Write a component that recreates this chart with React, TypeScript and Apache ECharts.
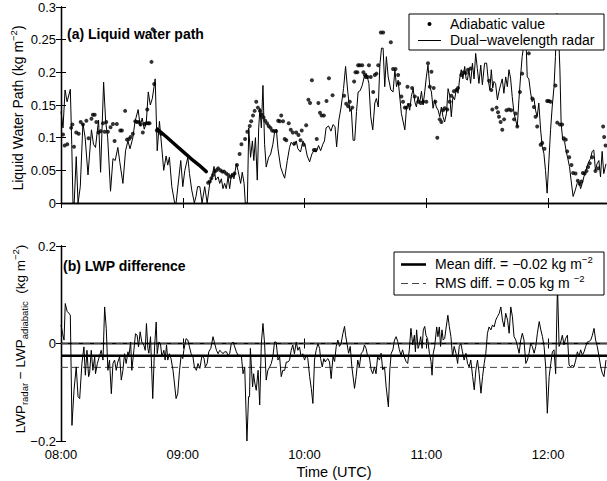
import React, { useEffect, useRef } from 'react';
import * as echarts from 'echarts';

const FONT = '"Liberation Sans", Arial, Helvetica, sans-serif';

// time axis: minutes after 08:00 UTC
const timeMax = 269;
const xTickLabels = ['08:00', '09:00', '10:00', '11:00', '12:00'];

// (a) Dual-wavelength radar LWP [minute, kg m^-2]
const radarLWP: number[][] = [
  [0,0.14],[1,0.115],[2,0.173],[3,0.155],[4.6,0.174],[5.3,0.09],[5.9,0],[6.5,0],[7.5,0.071],[8.4,0],[9.5,0.025],[10.8,0.122],[11.9,0.1],[13.3,0.043],[15,0.112],[16,0.09],[17,0.085],[18.5,0.127],[19.5,0.047],[21,0.185],[22,0.125],[23,0.1],[24.4,0.018],[25.6,0.068],[26.7,0.065],[28,0.085],[29,0.062],[30.5,0.03],[31.8,0.08],[33,0.095],[34,0.083],[35.4,0.1],[36.5,0.125],[38,0.143],[39,0.118],[40,0.13],[41,0.113],[42,0.122],[43,0.17],[44,0.15],[45,0.16],[46.4,0.19],[47.4,0.08],[48.5,0.125],[49.7,0.083],[50.6,0.05],[51.8,0.072],[52.6,0.058],[53.4,0.07],[54.6,0.025],[56,0],[56.7,0],[59,0.065],[60,0.025],[61,0.05],[62.5,0.07],[63.3,0.045],[64.4,0.02],[65.7,0],[66.5,0.01],[67.3,0.025],[68.4,0.025],[69.5,0],[70.8,0.025],[72,0],[73.3,0.03],[74.4,0.04],[75.4,0.056],[76.2,0.035],[77.4,0.04],[78.2,0.03],[79,0.037],[79.8,0.022],[80.6,0.03],[81.4,0.022],[82.3,0.04],[83.1,0.022],[84,0.045],[85.2,0.037],[86.4,0.06],[87.2,0.05],[88.5,0.03],[89.3,0.047],[90.2,0.03],[90.8,0],[91.8,0],[92.5,0.115],[93.4,0.07],[94.3,0.095],[95,0.065],[95.8,0.1],[96.7,0.035],[97.4,0.115],[98,0.145],[98.7,0.115],[99.5,0.18],[100.3,0.09],[101.1,0.055],[102.3,0.07],[103.3,0.075],[104.4,0.09],[105.3,0.11],[106.1,0.113],[106.9,0.083],[108.2,0.055],[109.3,0.045],[110.2,0.038],[111.5,0.065],[112.6,0.085],[113.4,0.093],[114.7,0.088],[115.9,0.095],[116.7,0.083],[118,0.078],[119.2,0.095],[120.3,0.088],[121.3,0.072],[122.5,0.063],[123.6,0.075],[124.6,0.08],[125.7,0.078],[126.9,0.088],[127.9,0.08],[129,0.09],[129.8,0.095],[130.6,0.115],[131.8,0.118],[133,0.11],[134,0.12],[135,0.117],[135.8,0.086],[136.9,0.127],[137.9,0.145],[139.2,0.175],[140.2,0.209],[141.2,0.173],[142.3,0.14],[143,0.145],[143.9,0.096],[144.7,0.096],[145.6,0.14],[146.4,0.17],[147.4,0.172],[148.4,0.18],[149.4,0.193],[150.5,0.198],[151.7,0.183],[152.6,0.132],[153.6,0.112],[154.6,0.153],[155.4,0.16],[156.3,0.147],[157.1,0.211],[157.9,0.237],[158.7,0.237],[159.5,0.178],[160.3,0.224],[161.2,0.193],[162.5,0.173],[163.6,0.17],[164.5,0.204],[165.3,0.178],[166.1,0.188],[166.9,0.163],[167.7,0.137],[168.6,0.124],[169.4,0.112],[170.2,0.145],[171,0.153],[171.8,0.142],[172.6,0.163],[173.5,0.175],[174.3,0.155],[175.1,0.147],[175.9,0.163],[176.7,0.153],[177.6,0.171],[178.4,0.15],[179.2,0.17],[180,0.193],[180.8,0.211],[181.7,0.178],[182.5,0.17],[183.3,0.145],[184.1,0.158],[184.9,0.147],[185.8,0.142],[186.6,0.132],[187.4,0.147],[188.2,0.132],[189,0.124],[189.9,0.137],[190.7,0.175],[191.5,0.165],[192.3,0.132],[193.1,0.163],[193.9,0.158],[194.8,0.175],[195.6,0.168],[196.4,0.19],[197.2,0.204],[198,0.19],[198.9,0.209],[199.6,0.19],[200.2,0.188],[201,0.204],[201.8,0.183],[202.7,0.214],[203.5,0.19],[204.3,0.229],[205.1,0.206],[205.9,0.183],[206.8,0.211],[207.6,0.181],[208.7,0.214],[209.7,0.214],[210.5,0.188],[211.3,0.173],[212,0.204],[212.7,0.176],[213.3,0.186],[214.1,0.183],[215,0.158],[215.8,0.171],[216.6,0.181],[217.4,0.19],[218.2,0.168],[219.1,0.193],[219.9,0.178],[220.7,0.204],[221.5,0.191],[222.3,0.163],[223.2,0.137],[224,0.127],[224.8,0.117],[225.6,0.158],[226.4,0.193],[227.2,0.224],[228.1,0.244],[228.6,0.26],[229.2,0.24],[229.7,0.193],[230.5,0.19],[231.3,0.17],[232.1,0.155],[233,0.16],[233.8,0.142],[234.6,0.132],[235.4,0.153],[236.3,0.112],[237.1,0.086],[237.9,0.076],[238.7,0.05],[239.5,0.015],[240.4,0.066],[241.2,0.112],[242,0.147],[242.9,0.178],[243.6,0.224],[244.3,0.29],[245,0.27],[245.8,0.204],[246.4,0.122],[247.2,0.096],[248.1,0.094],[248.9,0.079],[249.7,0.068],[250.5,0.056],[251.3,0.035],[252.3,0.01],[253.4,0.02],[254.3,0.03],[255.1,0.033],[256,0.022],[256.8,0.03],[257.6,0.04],[258.4,0.048],[259.2,0.056],[260,0.063],[260.9,0.068],[261.7,0.079],[262.5,0.081],[263.3,0.05],[264.1,0.06],[265,0.065],[265.8,0.04],[266.6,0.079],[267.4,0.045],[268.5,0.06]
];

// (a) Adiabatic LWP, individual samples
const adiabaticLWP: number[][] = [
  [1,0.105],[1.8,0.088],[3.1,0.09],[5,0.115],[5.6,0.12],[6.4,0.086],[7.5,0.108],[8.7,0.106],[9.7,0.124],[10.8,0.12],[12.5,0.126],[13.6,0.099],[15,0.129],[15.7,0.135],[16.6,0.135],[17.4,0.124],[18.5,0.108],[19.5,0.11],[20.7,0.122],[21.5,0.109],[22.3,0.124],[23.1,0.109],[24.4,0.116],[25.6,0.121],[26.4,0.095],[27.5,0.121],[29.2,0.111],[30,0.111],[31.6,0.141],[32.5,0.097],[33.5,0.098],[34.3,0.101],[35.4,0.106],[36.6,0.125],[37.4,0.124],[38.4,0.124],[39.2,0.12],[40.3,0.108],[41.1,0.121],[42,0.122],[42.5,0.143],[43,0.122],[43.6,0.122],[44.6,0.216],[45.2,0.266],[45.9,0.182],[47.2,0.111],[48.2,0.11],[49.3,0.106],
  [72.5,0.031],[73.3,0.033],[74.1,0.038],[74.9,0.043],[75.7,0.048],[76.6,0.05],[77.4,0.053],[78.5,0.05],[79.5,0.048],[80.4,0.048],[81.4,0.045],[82.4,0.043],[83.5,0.04],[84.8,0.043],[85.5,0.045],[86.7,0.058],[88,0.075],[88.9,0.09],[90.7,0.098],[91.8,0.109],[93,0.118],[93.7,0.125],[94.6,0.134],[95.4,0.141],[96.2,0.155],[97,0.146],[98,0.141],[99,0.135],[99.8,0.131],[100.6,0.126],[101.5,0.122],[102.3,0.118],[103.2,0.115],[104,0.111],[105,0.11],[106,0.11],[107,0.126],[107.8,0.125],[108.5,0.134],[109.4,0.125],[110.2,0.098],[111,0.096],[112.2,0.122],[113.2,0.112],[114.2,0.108],[115,0.091],[115.9,0.108],[117,0.104],[118,0.096],[118.6,0.111],[119.6,0.089],[120.8,0.119],[121.9,0.158],[122.7,0.153],[123.6,0.188],[124.6,0.081],[125.4,0.081],[126,0.098],[126.8,0.153],[127.6,0.138],[128.4,0.134],[129.5,0.134],[130.8,0.156],[132,0.191],
  [133.8,0.165],[139.5,0.164],[140.5,0.152],[141.5,0.148],[142.3,0.155],[143.5,0.146],[144.4,0.186],[145.1,0.2],[146,0.2],[146.4,0.211],[147.2,0.211],[148.4,0.211],[149,0.2],[149.7,0.196],[150.2,0.193],[151,0.193],[151.7,0.211],[152.6,0.193],[153.8,0.17],[154.6,0.196],[155.4,0.198],[156.3,0.211],[157.6,0.261],[158.7,0.261],[162.5,0.246],[163.6,0.205],[164.8,0.205],[166.1,0.196],[166.6,0.183],[167.7,0.163],[168.5,0.155],[169.4,0.146],[170.2,0.146],[170.7,0.178],[171.8,0.15],[173,0.176],[174.3,0.163],[176,0.155],[177.2,0.153],[178.4,0.155],[180,0.155],[180.8,0.214],[181.7,0.178],[182.5,0.201],[183.6,0.176],[184.4,0.155],[185.4,0.1],[186.6,0.128],[187.4,0.124],[188.2,0.142],[189,0.145],[190.3,0.143],[191.5,0.155],[192.3,0.164],[193.6,0.171],[194.8,0.173],[195.6,0.176],[197.2,0.196],[198.4,0.2],[199.4,0.199],[200.5,0.204],[201.8,0.206],
  [210.9,0.187],[212,0.173],[212.5,0.143],[214.6,0.146],[215.3,0.139],[215.8,0.132],[216.6,0.124],[217.4,0.112],[218.3,0.128],[219.5,0.142],[220.7,0.143],[221.8,0.142],[223.2,0.128],[224,0.137],[224.8,0.117],[226.1,0.17],[227.2,0.198],[230.5,0.229],[232.2,0.16],[233,0.147],[233.8,0.132],[234.6,0.117],[236.3,0.089],[237.1,0.092],[238.2,0.083],[239.5,0.156],[240.3,0.156],[241.2,0.155],[243.6,0.18],[244.5,0.123],[245.8,0.12],[246.9,0.12],[247.7,0.099],[248.7,0.097],[249.4,0.079],[250.4,0.07],[251.5,0.058],[252.3,0.046],[253.5,0.045],[254.6,0.034],[255.6,0.029],[256.4,0.033],[257.1,0.046],[258,0.045],[258.9,0.049],[259.7,0.055],[260.5,0.061],[261.7,0.07],[263.3,0.049],[264.6,0.053],[267.1,0.117],[267.6,0.101],[268.3,0.088]
];

// (a) Adiabatic LWP, densely sampled stretch (appears as a thick trace)
const adiabaticDense: number[][] = [
  [47.5,0.113],[52,0.101],[56,0.09],[60,0.079],[64,0.068],[68,0.058],[71.6,0.048]
];

// (b) LWP_radar - LWP_adiabatic
const lwpDiff: number[][] = [
  [0,0.038],[0.8,0.02],[1.5,0.007],[2.1,0.082],[3,0.066],[3.9,0.062],[4.6,0.058],[5.4,-0.168],[6.4,-0.096],[7.5,-0.048],[8.4,-0.109],[9.2,-0.113],[10.3,-0.041],[11.3,-0.007],[12,-0.065],[12.8,-0.014],[13.6,-0.068],[14.1,-0.061],[14.9,-0.014],[15.7,-0.055],[16.6,-0.027],[17,-0.062],[17.9,-0.041],[19.8,-0.014],[20.7,-0.034],[21.5,0.075],[22.3,0.031],[23.1,-0.055],[23.9,-0.034],[24.8,-0.103],[25.6,-0.041],[26.4,-0.034],[27.2,-0.055],[28,-0.038],[28.9,-0.027],[29.7,-0.075],[30.5,-0.055],[31.3,-0.021],[32.1,-0.041],[33,-0.017],[33.4,-0.027],[34.3,0.003],[34.9,-0.055],[35.9,-0.014],[36.7,0.02],[37.5,0.017],[38.2,-0.007],[39,0.024],[39.8,0.003],[40.8,-0.003],[41.5,-0.014],[42.1,0.041],[42.8,-0.01],[43.3,-0.02],[44.1,0.014],[45.2,-0.113],[46.1,-0.007],[46.9,0.044],[47.4,-0.021],[48.2,0.003],[49,0],[49.7,-0.027],[50.7,-0.014],[51.3,-0.034],[52,-0.003],[52.6,-0.034],[53.4,-0.021],[54.2,-0.031],[55.2,-0.055],[56.7,-0.113],[57.5,-0.103],[58.4,-0.055],[59.2,-0.024],[60,-0.031],[60.5,-0.014],[61.6,0.01],[62.5,0.007],[63.3,-0.007],[64.1,-0.021],[65,-0.027],[65.7,-0.048],
  [66.7,-0.055],[67.5,-0.041],[68.4,-0.051],[69.5,-0.024],[70.5,-0.031],[71.1,-0.048],[72,-0.041],[72.8,-0.017],[73.8,-0.01],[74.9,0.014],[75.7,0],[76.6,-0.014],[77.4,-0.021],[78.2,-0.014],[79,-0.017],[79.8,-0.021],[80.6,-0.017],[81.5,-0.017],[82.3,-0.024],[83.1,-0.021],[83.9,0],[84.8,0.003],[85.6,-0.007],[86.4,-0.017],[87.2,-0.024],[88,-0.024],[88.9,-0.027],[89.7,-0.062],[90.5,-0.048],[91.6,-0.2],[92.4,-0.109],[92.9,-0.109],[93.3,-0.01],[93.9,-0.055],[94.4,-0.089],[94.9,-0.062],[95.4,-0.079],[96.2,-0.096],[97.1,-0.055],[97.9,-0.126],[98.7,0],[99.5,0.041],[100.3,0],[101.1,-0.075],[101.9,-0.055],[102.8,-0.048],[103.6,-0.041],[104.4,-0.027],[105.2,0.003],[106,0.003],[106.9,-0.034],[107.7,-0.027],[108.5,-0.068],[109.3,-0.055],[110.2,-0.055],[111,-0.038],[111.8,-0.038],[112.6,-0.034],[113.4,-0.014],[114.2,-0.003],[115,-0.021],[115.9,0.003],[116.7,-0.014],[117.5,-0.007],[118.3,-0.027],[119.1,-0.021],[120,-0.034],[120.8,-0.024],[121.6,-0.031],[122.5,-0.068],[123.3,-0.092],[124.1,-0.123],[124.9,-0.034],[125.7,-0.014],[126.6,0],[127.4,-0.01],[127.9,-0.031],[128.7,-0.048],[129.5,-0.031],[130.2,-0.038],[130.7,-0.034],[131.5,-0.031],[132.3,-0.038],[133.1,-0.072],[134,-0.027],
  [134.8,-0.037],[135.6,-0.006],[136.4,0.007],[137.2,-0.006],[138,0],[138.9,0.021],[139.7,0.035],[140.2,0.017],[140.9,0],[141.7,-0.02],[142.5,-0.006],[143.3,-0.048],[144.6,-0.092],[145.4,-0.068],[146.2,-0.034],[147,-0.048],[147.9,-0.02],[148.7,-0.017],[149.5,-0.003],[150.3,-0.01],[151.1,-0.027],[151.9,-0.027],[152.8,-0.054],[153.6,-0.062],[154.4,-0.048],[155.2,-0.062],[156,-0.027],[156.9,-0.034],[157.7,-0.02],[158.5,-0.054],[159.4,-0.048],[160.2,-0.089],[161.3,-0.13],[162,-0.054],[162.7,-0.02],[163.5,-0.013],[164.3,0.007],[165.1,0.014],[165.9,0.004],[166.7,-0.013],
  [167.5,-0.024],[168.3,-0.013],[169.1,-0.027],[170,-0.037],[170.8,-0.041],[171.6,-0.013],[172.4,0.031],[173.3,-0.003],[174.1,0.017],[174.6,-0.017],[175.2,0.028],[175.9,-0.01],[176.5,-0.003],[177.2,0.014],[177.9,-0.01],[178.5,0.028],[179.2,0.035],[179.8,0.017],[180.6,0.01],[181.5,-0.02],[182.3,-0.037],[182.8,-0.065],[183.4,-0.02],[184.1,-0.006],[185.1,0.034],[185.7,0.014],[186.4,0.034],[187,-0.006],[187.7,0.028],[188.3,0.007],[189,0.01],[189.6,0.028],[190.6,0.058],[191.3,0.035],[192.1,0.014],[192.9,-0.027],[193.7,-0.006],[194.6,-0.02],[195.4,-0.041],[196.2,-0.006],[197,0],[197.8,-0.017],[198.6,-0.034],[199.5,-0.02],[200.3,-0.041],[201.1,-0.048],[201.9,-0.034],[202.8,-0.068],[203.6,-0.095],[204.4,-0.054],[205.2,-0.034],[206,-0.061],[206.9,-0.102],[207.7,-0.068],[208.5,-0.041],[209.3,-0.02],[210.1,0.021],[210.9,0.034],[211.8,0.028],[212.6,0.038],[213.4,0.034],[214.2,0.048],[215,0.055],[215.9,0.062],[216.7,0.075],[217.5,0.048],[218.3,0.034],[219.1,0.062],[220,0.048],[220.8,0.021],[221.6,0.075],[222.4,0.055],[223.2,0.014],[224.1,0.007],[224.9,-0.006],[225.7,-0.02],[226.5,0.007],[227.3,0.021],[228.1,0.007],[229,-0.041],[229.8,-0.034],[230.6,-0.02],[231.4,0],[232.2,-0.006],[233.1,-0.02],[233.9,-0.006],[234.7,0.021],[235.6,0.045],[236.4,0.028],[237.2,0.014],[238,-0.006],[238.8,-0.048],[239.6,-0.143],[240.5,-0.068],[241.3,-0.041],[242.1,-0.017],[242.9,-0.013],[243.7,-0.062],[244.6,0.12],[245.4,-0.006],[246.2,0.003],[247,0.017],[247.8,-0.003],[248.6,0.01],[249.5,0.017],[250.3,-0.044],[251.1,-0.048],[251.9,-0.044],[252.7,-0.048],[253.6,-0.034],[254.4,-0.017],[255.2,-0.027],[256,-0.013],[256.9,-0.024],[257.7,-0.017],[258.5,-0.006],[259.3,0.003],[260.1,0.004],[261,0.007],[261.8,0.017],[262.6,0.031],[263.4,0.007],[264.2,-0.006],[265.1,-0.027],[265.9,-0.048],[266.7,-0.061],[267.5,-0.068],[268.5,-0.034]
];

const meanDiff = -0.025;
const rmsBand = [0.0, -0.049];

const fmtY = (v: number) => (v === 0 ? '0' : String(+v.toFixed(2)).replace('-', '\u2212'));

export default function App() {
  const ref = useRef<HTMLDivElement>(null);
  useEffect(() => {
    if (!ref.current) return;
    const chart = echarts.init(ref.current, undefined, { renderer: 'svg' });
    const axisLine = { show: true, lineStyle: { color: '#000', width: 1.3 } };
    const axisTick = { show: true, inside: true, length: 5, lineStyle: { color: '#000', width: 1 } };
    const lbl = { color: '#000', fontFamily: FONT, fontSize: 13 };
    const xBase = (grid: number, pos: 'top' | 'bottom', labels: boolean) => ({
      type: 'value', gridIndex: grid, position: pos, min: 0, max: timeMax, interval: 60,
      axisLine, axisTick, splitLine: { show: false },
      axisLabel: labels
        ? { ...lbl, margin: 7, lineHeight: 13, formatter: (v: number) => (v % 60 === 0 ? xTickLabels[v / 60] ?? '' : ''), showMaxLabel: false }
        : { show: false },
    });
    const yBase = (grid: number, pos: 'left' | 'right', min: number, max: number, interval: number, labels: boolean) => ({
      type: 'value', gridIndex: grid, position: pos, min, max, interval,
      axisLine, axisTick, splitLine: { show: false },
      axisLabel: labels ? { ...lbl, margin: 5, lineHeight: 12, formatter: fmtY } : { show: false },
    });
    const sup = { fontSize: 9.5, fontFamily: FONT, verticalAlign: 'top', lineHeight: 10, fill: '#000' };
    const sub = { fontSize: 9.5, fontFamily: FONT, verticalAlign: 'bottom', lineHeight: 10, fill: '#000' };
    const textBase = { fontFamily: FONT, fontSize: 14, fill: '#000', lineHeight: 19 };

    chart.setOption({
      animation: false,
      backgroundColor: '#fff',
      grid: [
        { left: 61, right: -1, top: 7, height: 196 },
        { left: 61, right: -1, top: 246, height: 195 },
      ],
      xAxis: [
        xBase(0, 'bottom', false),
        xBase(0, 'top', false),
        {
          ...xBase(1, 'bottom', true),
          name: 'Time (UTC)', nameLocation: 'middle', nameGap: 23,
          nameTextStyle: { color: '#000', fontFamily: FONT, fontSize: 14.5 },
        },
        xBase(1, 'top', false),
      ],
      yAxis: [
        yBase(0, 'left', 0, 0.3, 0.05, true),
        yBase(0, 'right', 0, 0.3, 0.05, false),
        yBase(1, 'left', -0.2, 0.2, 0.2, true),
        yBase(1, 'right', -0.2, 0.2, 0.2, false),
      ],
      series: [
        {
          name: 'Dual-wavelength radar', type: 'line', xAxisIndex: 0, yAxisIndex: 0, data: radarLWP,
          showSymbol: false, lineStyle: { color: '#000', width: 1 }, z: 2,
        },
        {
          name: 'Adiabatic value', type: 'scatter', xAxisIndex: 0, yAxisIndex: 0, data: adiabaticLWP,
          symbolSize: 4, itemStyle: { color: '#000' }, z: 3,
        },
        {
          name: 'Adiabatic dense', type: 'line', xAxisIndex: 0, yAxisIndex: 0, data: adiabaticDense,
          showSymbol: false, lineStyle: { color: '#000', width: 3.4, cap: 'round' }, z: 3,
        },
        {
          name: 'LWP difference', type: 'line', xAxisIndex: 2, yAxisIndex: 2, data: lwpDiff,
          showSymbol: false, lineStyle: { color: '#000', width: 1 }, z: 3,
        },
        {
          name: 'Mean diff', type: 'line', xAxisIndex: 2, yAxisIndex: 2,
          data: [[0, meanDiff], [timeMax, meanDiff]],
          showSymbol: false, lineStyle: { color: '#000', width: 2.6 }, z: 4,
        },
        ...rmsBand.map((v, i) => ({
          name: 'RMS ' + i, type: 'line', xAxisIndex: 2, yAxisIndex: 2,
          data: [[0, v], [timeMax, v]],
          showSymbol: false, lineStyle: { color: '#444', width: 1, type: [7, 4] }, z: 2,
        })),
      ],
      graphic: [
        { type: 'text', left: 67, top: 27, z: 20, style: { text: '(a) Liquid water path', fontFamily: FONT, fontSize: 14, fontWeight: 'bold', fill: '#000' } },
        { type: 'text', left: 63, top: 259, z: 20, style: { text: '(b) LWP difference', fontFamily: FONT, fontSize: 14, fontWeight: 'bold', fill: '#000' } },
        {
          type: 'text', x: 18, y: 108, rotation: Math.PI / 2, z: 20,
          style: { ...textBase, text: 'Liquid Water Path (kg m{sup|\u22122})', align: 'center', verticalAlign: 'middle', rich: { sup } },
        },
        {
          type: 'text', x: 20, y: 339, rotation: Math.PI / 2, z: 20,
          style: { ...textBase, fontSize: 13.5, text: 'LWP{sub|radar} \u2212 LWP{sub|adiabatic}  (kg m{sup|\u22122})', align: 'center', verticalAlign: 'middle', rich: { sup, sub } },
        },
        // legend (a)
        { type: 'rect', z: 30, shape: { x: 409, y: 14, width: 195, height: 36 }, style: { fill: '#fff', stroke: '#000', lineWidth: 1 } },
        { type: 'circle', z: 31, shape: { cx: 429.5, cy: 24, r: 2 }, style: { fill: '#000' } },
        { type: 'text', z: 31, x: 450, y: 24, style: { text: 'Adiabatic value', fontFamily: FONT, fontSize: 14, fill: '#000', verticalAlign: 'middle' } },
        { type: 'line', z: 31, shape: { x1: 418, y1: 40.5, x2: 441, y2: 40.5 }, style: { stroke: '#000', lineWidth: 1 } },
        { type: 'text', z: 31, x: 450, y: 40, style: { text: 'Dual\u2212wavelength radar', fontFamily: FONT, fontSize: 14, fill: '#000', verticalAlign: 'middle' } },
        // legend (b)
        { type: 'rect', z: 30, shape: { x: 394, y: 252, width: 210, height: 43 }, style: { fill: '#fff', stroke: '#000', lineWidth: 1 } },
        { type: 'line', z: 31, shape: { x1: 401, y1: 264.5, x2: 426, y2: 264.5 }, style: { stroke: '#000', lineWidth: 2.6 } },
        { type: 'text', z: 31, x: 435, y: 264, style: { ...textBase, text: 'Mean diff. = \u22120.02 kg m{sup|\u22122}', verticalAlign: 'middle', rich: { sup } } },
        { type: 'line', z: 31, shape: { x1: 401, y1: 283.5, x2: 426, y2: 283.5 }, style: { stroke: '#444', lineWidth: 1, lineDash: [7, 4] } },
        { type: 'text', z: 31, x: 435, y: 283, style: { ...textBase, text: 'RMS diff. = 0.05 kg m {sup|\u22122}', verticalAlign: 'middle', rich: { sup } } },
      ],
    });
    return () => chart.dispose();
  }, []);
  return (
    <div style={{ position: 'absolute', left: 0, top: 0, width: 607, height: 481, background: '#fff' }}>
      <div ref={ref} style={{ width: 607, height: 481 }} />
    </div>
  );
}
